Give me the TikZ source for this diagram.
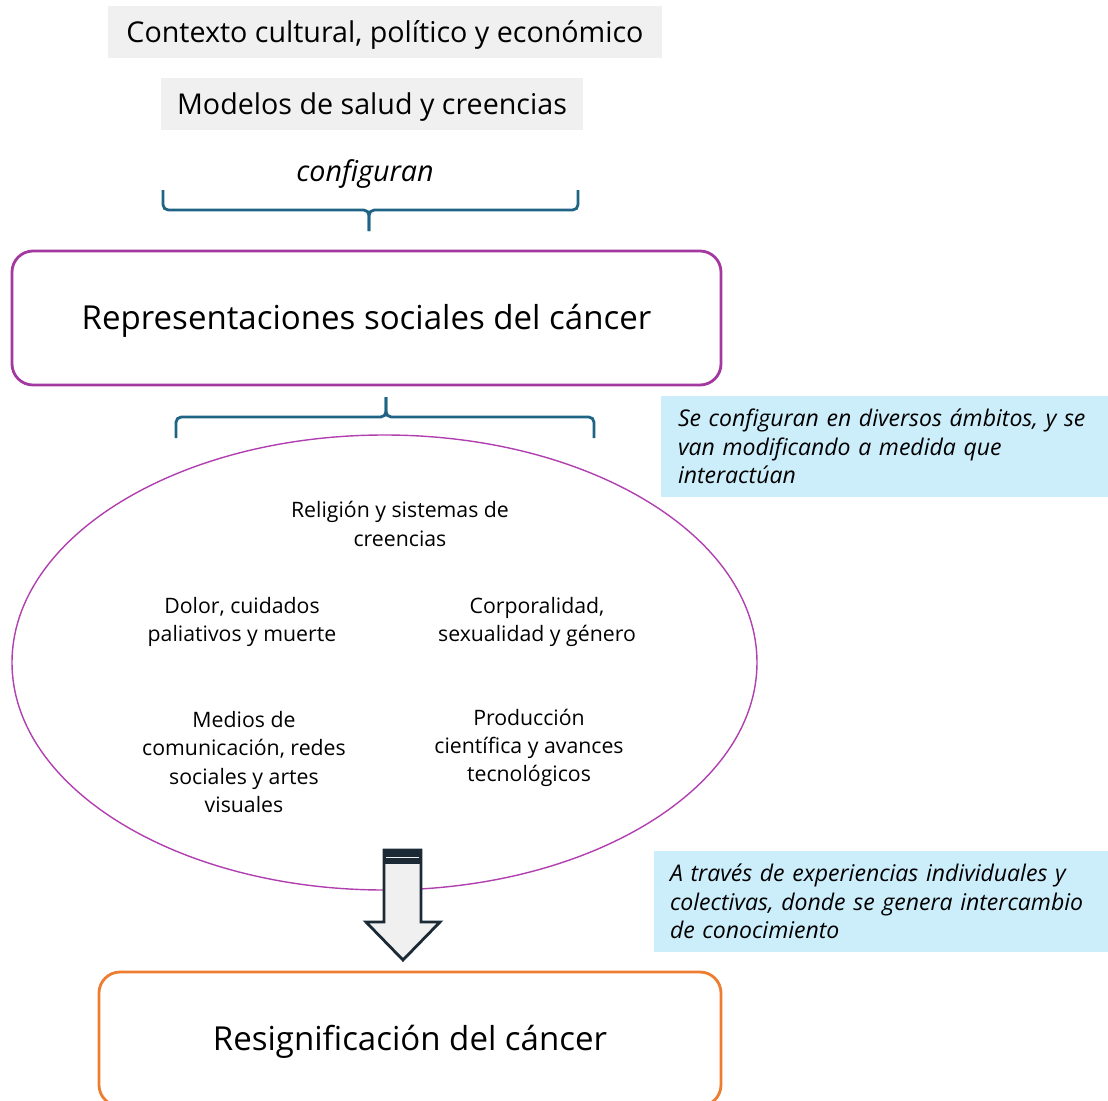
\documentclass[tikz,border=0pt]{standalone}
\usepackage{fontspec}
\setmainfont[Ligatures=NoCommon]{Open Sans}
\usetikzlibrary{positioning,shapes.geometric,calc}
\definecolor{ctxgray}{RGB}{240,240,240}
\definecolor{bracecol}{RGB}{31,100,132}
\definecolor{repborder}{RGB}{163,57,160}
\definecolor{resborder}{RGB}{237,125,49}
\definecolor{ambline}{RGB}{176,64,176}
\definecolor{notefill}{RGB}{204,237,250}
\definecolor{arrowline}{RGB}{27,42,53}
\tikzset{
  context/.style={fill=ctxgray,inner sep=0pt,minimum height=10.4mm,text depth=0.1em,font=\fontsize{16.3}{17}\selectfont},
  mainbox/.style={draw,rounded corners=12pt,line width=1.6pt,minimum height=26.8mm,text depth=0.1em,font=\fontsize{18.8}{20}\selectfont},
  ambito/.style={align=center,inner sep=0pt,font=\fontsize{12.1}{16}\selectfont},
  note/.style={fill=notefill,align=left,minimum height=20.2mm,font=\fontsize{13.1}{16.3}\selectfont\itshape},
  brace/.style={draw=bracecol,line width=1.6pt,rounded corners=3pt},
}

\begin{document}
\begin{tikzpicture}[x=0.2mm,y=-0.2mm]
  \useasboundingbox (0,0) rectangle (1108,1101);
  \node[context,minimum width=110.8mm] (ctx) at (385,32) {Contexto cultural, político y económico};
  \node[context,minimum width=84.4mm] (mod) at (372,104) {Modelos de salud y creencias};
  \node[text depth=0.1em,font=\fontsize{16.3}{17}\selectfont\itshape] (conf) at (365,171) {configuran};
  \node[mainbox,draw=repborder,minimum width=141.8mm] (rep) at (366.5,318) {Representaciones sociales del cáncer};
  \node[ellipse,draw=ambline,line width=0.8pt,minimum width=149mm,minimum height=91mm,inner sep=0pt] (amb) at (384.5,662.5) {};
  \node[mainbox,draw=resborder,minimum width=124.4mm] (res) at (410,1039) {Resignificación del cáncer};

  \draw[brace] (163,190) |- (369,210) -- (369,231);
  \draw[brace] (578,190) |- (369,210) -- (369,231);
  \draw[brace] (176,438) |- (386,417) -- (386,397);
  \draw[brace] (594,438) |- (386,417) -- (386,397);

  \node[ambito] (rel) at (400,524) {Religión y sistemas de\\creencias};
  \node[ambito] (dol) at (242,622) {Dolor, cuidados\\paliativos y muerte};
  \node[ambito] (cor) at (537,622) {Corporalidad,\\sexualidad y género};
  \node[ambito] (med) at (244,762) {Medios de\\comunicación, redes\\sociales y artes\\visuales};
  \node[ambito] (pro) at (529,748) {Producción\\científica y avances\\tecnológicos};

  \node[note,text width=82.6mm,inner xsep=3.4mm] (n1) at (884.5,446.5) {Se configuran en diversos ámbitos, y se\\van modificando a medida que\\interactúan};
  \node[note,text width=84.4mm,inner xsep=3.2mm] (n2) at (881,901.5) {A través de experiencias individuales y\\colectivas, donde se genera intercambio\\de conocimiento};

  \draw[draw=arrowline,fill=ctxgray,line width=1.6pt,line join=miter]
    (384,850) -- (421,850) -- (421,922) -- (440,922) -- (403,960) -- (366,922) -- (384,922) -- cycle;
  \fill[arrowline] (384,849) rectangle (421,864);
  \fill[ctxgray] (386,856.5) rectangle (419,858);
\end{tikzpicture}
\end{document}
